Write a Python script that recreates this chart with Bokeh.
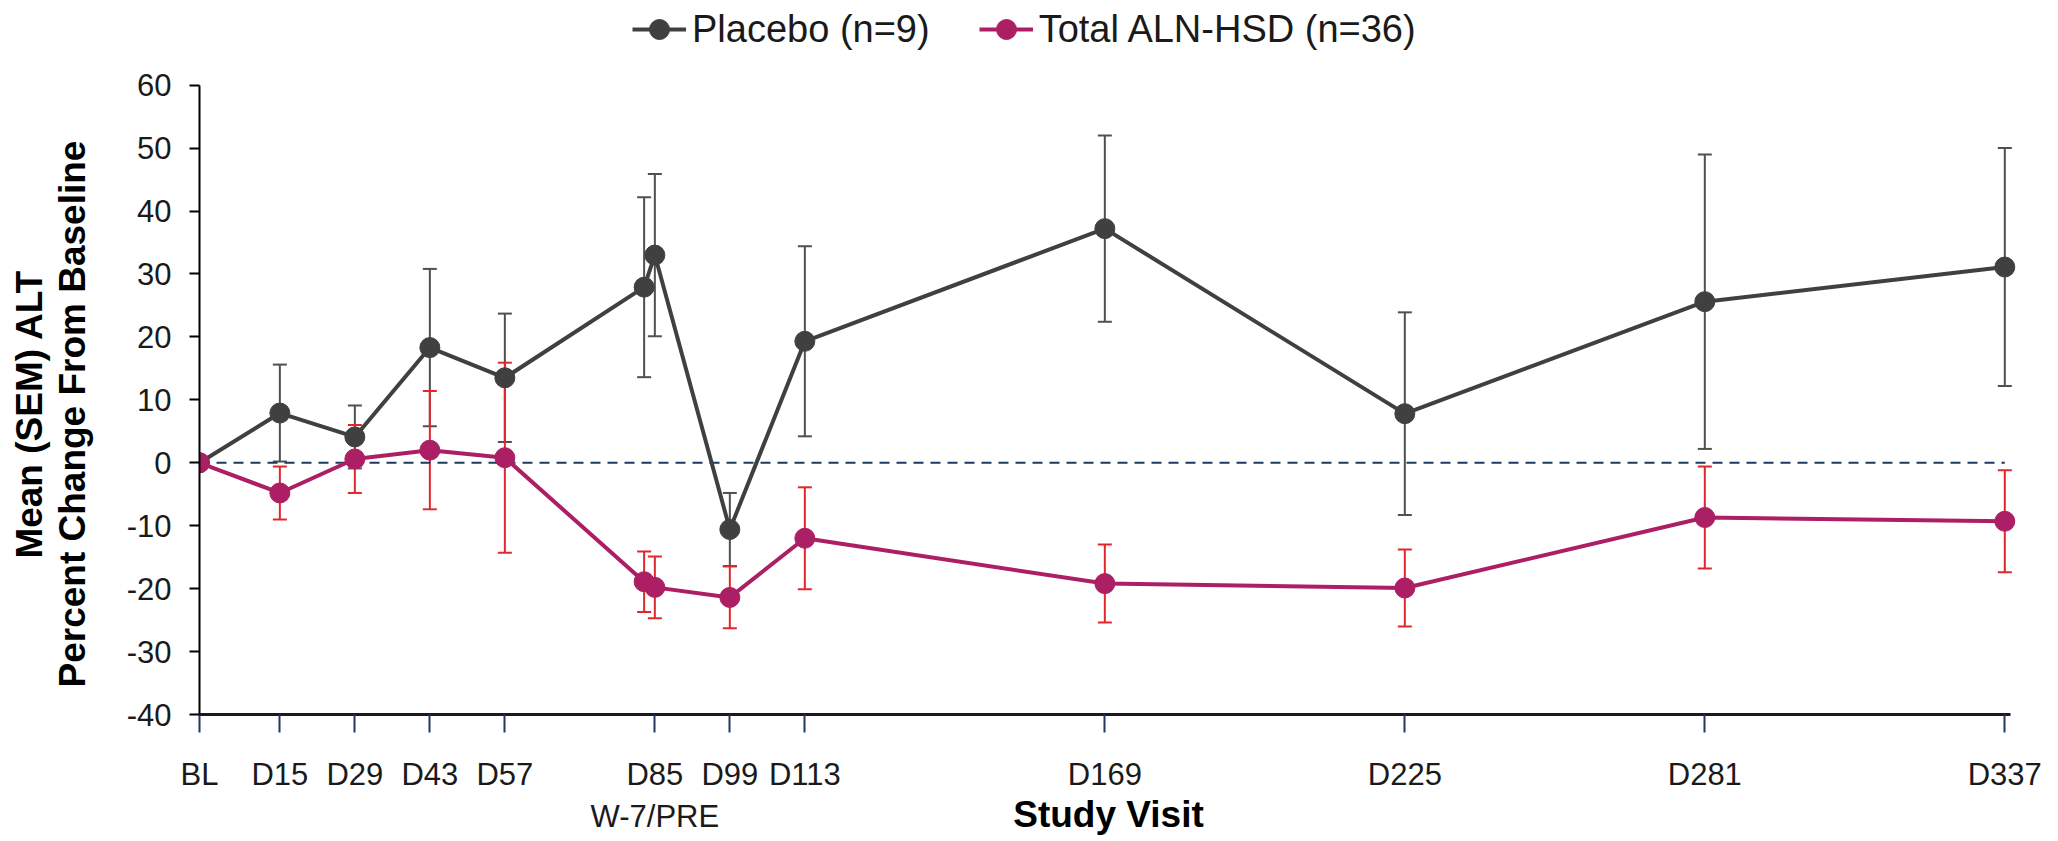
from bokeh.plotting import figure
from bokeh.models import (Range1d, FixedTicker, Whisker, ColumnDataSource, Legend,
                          LegendItem, TeeHead)
from bokeh.embed import file_html
from bokeh.resources import INLINE

# ---------------- data ----------------
visit_days = [0, 15, 29, 43, 57, 83, 85, 99, 113, 169, 225, 281, 337]
placebo_mean = [0.0, 7.9, 4.1, 18.3, 13.5, 27.9, 33.0, -10.6, 19.3, 37.2, 7.8, 25.6, 31.1]
placebo_sem = [0.0, 7.7, 5.0, 12.5, 10.2, 14.3, 12.9, 5.8, 15.1, 14.8, 16.1, 23.4, 18.9]
aln_mean = [0.0, -4.8, 0.6, 2.0, 0.8, -18.9, -19.8, -21.4, -12.0, -19.2, -19.9, -8.7, -9.3]
aln_sem = [0.0, 4.2, 5.4, 9.4, 15.1, 4.8, 4.9, 4.9, 8.1, 6.2, 6.1, 8.1, 8.1]

tick_days = [0, 15, 29, 43, 57, 85, 99, 113, 169, 225, 281, 337]
tick_labels = ["BL", "D15", "D29", "D43", "D57", "D85\nW-7/PRE", "D99", "D113",
               "D169", "D225", "D281", "D337"]
y_ticks = [-40, -30, -20, -10, 0, 10, 20, 30, 40, 50, 60]
y_min, y_max = -40, 60

placebo_name = "Placebo (n=9)"
aln_name = "Total ALN-HSD (n=36)"
y_title_lines = ["Mean (SEM) ALT", "Percent Change From Baseline"]
x_title = "Study Visit"

# ---------------- style ----------------
FONT = "Liberation Sans"
GREY = "#404040"
GREY_ERR = "#505050"
MAGENTA = "#AD1F64"
RED_ERR = "#E0282C"
NAVY = "#1F3A5F"

# frame reaches the top of the canvas so that the legend can sit inside it;
# the y axis itself is bounded to -40..60
p = figure(width=2042, height=837, output_backend="svg", toolbar_location=None,
           x_range=Range1d(0, 339.37), y_range=Range1d(y_min, 73.45),
           min_border_left=199, min_border_right=25, min_border_top=0,
           min_border_bottom=122)
p.outline_line_color = None
p.xgrid.grid_line_color = None
p.ygrid.grid_line_color = None
p.background_fill_color = "white"
p.border_fill_color = "white"


def build_source(mean, sem):
    xs, lo, hi = [], [], []
    for x, m, s in zip(visit_days, mean, sem):
        if s > 0:
            xs.append(x)
            lo.append(m - s)
            hi.append(m + s)
    return ColumnDataSource(dict(x=xs, lower=lo, upper=hi))


for mean, sem, col in [(placebo_mean, placebo_sem, GREY_ERR), (aln_mean, aln_sem, RED_ERR)]:
    src = build_source(mean, sem)
    w = Whisker(base="x", lower="lower", upper="upper", source=src,
                line_color=col, line_width=2, level="underlay",
                upper_head=TeeHead(size=14, line_color=col, line_width=2),
                lower_head=TeeHead(size=14, line_color=col, line_width=2))
    p.add_layout(w)

# zero reference line across the visits
p.line([visit_days[0], visit_days[-1]], [0, 0], line_color=NAVY, line_width=2,
       line_dash="10 7")

pl_line = p.line(visit_days, placebo_mean, line_color=GREY, line_width=4)
pl_pts = p.scatter(visit_days, placebo_mean, size=20, marker="circle",
                   fill_color=GREY, line_color=GREY)
al_line = p.line(visit_days, aln_mean, line_color=MAGENTA, line_width=4)
al_pts = p.scatter(visit_days, aln_mean, size=20, marker="circle",
                   fill_color=MAGENTA, line_color=MAGENTA)

# ---------------- axes ----------------
yax = p.yaxis[0]
yax.ticker = FixedTicker(ticks=y_ticks)
yax.major_label_overrides = {v: str(v) for v in y_ticks}
yax.bounds = (y_min, y_max)
yax.axis_line_color = "black"
yax.axis_line_width = 2
yax.major_tick_line_color = "black"
yax.major_tick_line_width = 2
yax.major_tick_out = 10
yax.major_tick_in = 0
yax.minor_tick_line_color = None
yax.major_label_text_font = FONT
yax.major_label_text_font_size = "31px"
yax.major_label_text_color = "#1a1a1a"
yax.major_label_standoff = 18
# trailing no-break spaces centre the title on the -40..60 part of the axis
pad = "\u00a0" * 11
yax.axis_label = "\n".join(line + pad for line in y_title_lines)
yax.axis_label_text_font = FONT
yax.axis_label_text_font_style = "bold"
yax.axis_label_text_font_size = "37px"
yax.axis_label_text_line_height = 1.05
yax.axis_label_text_color = "black"
yax.axis_label_standoff = 31

xax = p.xaxis[0]
xax.ticker = FixedTicker(ticks=tick_days)
xax.major_label_overrides = {d: lab for d, lab in zip(tick_days, tick_labels)}
xax.bounds = (visit_days[0], visit_days[-1] + 1)
xax.axis_line_color = "#1a1a1a"
xax.axis_line_width = 3
xax.major_tick_line_color = NAVY
xax.major_tick_line_width = 2
xax.major_tick_out = 18
xax.major_tick_in = 0
xax.minor_tick_line_color = None
xax.major_label_text_font = FONT
xax.major_label_text_font_size = "31px"
xax.major_label_text_color = "#1a1a1a"
xax.major_label_standoff = 24
xax.axis_label = x_title
xax.axis_label_text_font = FONT
xax.axis_label_text_font_style = "bold"
xax.axis_label_text_font_size = "37px"
xax.axis_label_text_color = "black"
xax.axis_label_standoff = -43

# ---------------- legend ----------------
legend = Legend(items=[LegendItem(label=placebo_name, renderers=[pl_line, pl_pts]),
                       LegendItem(label=aln_name, renderers=[al_line, al_pts])],
                orientation="horizontal", location=(433, 660),
                label_text_font=FONT, label_text_font_size="38px",
                label_text_color="#1a1a1a",
                glyph_width=54, glyph_height=50, label_standoff=6, spacing=49,
                padding=0, margin=0, border_line_color=None,
                background_fill_alpha=0)
p.add_layout(legend)

open("out.html", "w").write(file_html(p, INLINE))
